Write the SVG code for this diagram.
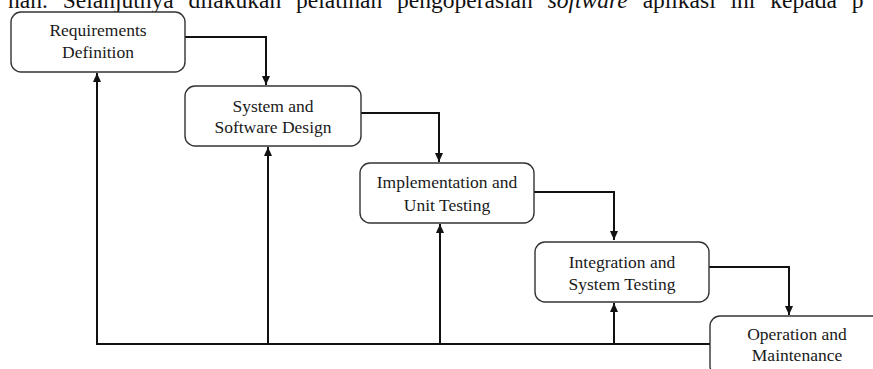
<svg xmlns="http://www.w3.org/2000/svg" width="873" height="369" viewBox="0 0 873 369">
<style>
.box{fill:#fff;stroke:#333;stroke-width:1.4}
.lbl{font-family:"Liberation Serif","Times New Roman",serif;font-size:17.5px;fill:#1a1a1a;text-anchor:middle}
.top{font-family:"Liberation Serif","Times New Roman",serif;font-size:23.5px;fill:#111;word-spacing:9px}
.con{fill:none;stroke:#111;stroke-width:2}
</style>
<defs>
<marker id="ah" markerUnits="userSpaceOnUse" markerWidth="10" markerHeight="10" viewBox="0 0 10 10" refX="9" refY="4" orient="auto">
<path d="M0,0 L9,4 L0,8 z" fill="#111"/>
</marker>
</defs>
<rect width="873" height="369" fill="#fff"/>
<text class="top" x="8" y="8">nan. Selanjutnya dilakukan pelatihan pengoperasian <tspan font-style="italic">software</tspan> aplikasi ini kepada p</text>
<g id="connectors">
<path class="con" d="M185,37 H266 V85" marker-end="url(#ah)"/>
<path class="con" d="M361,113 H439 V162" marker-end="url(#ah)"/>
<path class="con" d="M534,192 H614 V240" marker-end="url(#ah)"/>
<path class="con" d="M709,267 H789 V315" marker-end="url(#ah)"/>
<path class="con" d="M97,344 H710"/>
<path class="con" d="M97,345 V73" marker-end="url(#ah)"/>
<path class="con" d="M268,345 V147" marker-end="url(#ah)"/>
<path class="con" d="M440,345 V224" marker-end="url(#ah)"/>
<path class="con" d="M614,345 V303" marker-end="url(#ah)"/>
</g>
<g id="n1">
<rect class="box" x="11" y="12" width="174" height="60" rx="10"/>
<text class="lbl" x="98" y="36">Requirements</text>
<text class="lbl" x="98" y="58">Definition</text>
</g>
<g id="n2">
<rect class="box" x="185" y="86" width="176" height="60" rx="10"/>
<text class="lbl" x="273" y="112">System and</text>
<text class="lbl" x="273" y="133">Software Design</text>
</g>
<g id="n3">
<rect class="box" x="360" y="163" width="174" height="60" rx="10"/>
<text class="lbl" x="447" y="188">Implementation and</text>
<text class="lbl" x="447" y="211">Unit Testing</text>
</g>
<g id="n4">
<rect class="box" x="535" y="242" width="174" height="60" rx="10"/>
<text class="lbl" x="622" y="268">Integration and</text>
<text class="lbl" x="622" y="290">System Testing</text>
</g>
<g id="n5">
<rect class="box" x="710" y="316" width="174" height="60" rx="10"/>
<text class="lbl" x="797" y="340">Operation and</text>
<text class="lbl" x="797" y="361">Maintenance</text>
</g>
</svg>
